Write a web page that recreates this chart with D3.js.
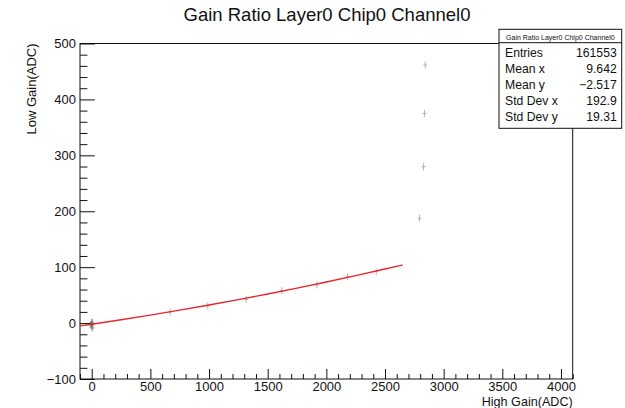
<!DOCTYPE html>
<html>
<head>
<meta charset="utf-8">
<script src="https://cdn.jsdelivr.net/npm/d3@7"></script>
<style>
  html, body { margin: 0; padding: 0; background: #fff; }
  svg { display: block; font-family: "Liberation Sans", Arial, Helvetica, sans-serif; }
</style>
</head>
<body>
<svg id="chart" width="625" height="408"></svg>
<script>
// Scatter of high-gain vs low-gain ADC readings
const highGain = [668, 989, 1316, 1620, 1919, 2180, 2425, 2794, 2828, 2837, 2843];
const lowGain  = [20.0, 30.5, 42.5, 57.9, 68.1, 82.9, 91.9, 187.4, 279.7, 375.0, 461.5];

// Dense pile of entries around the pedestal (0, 0)
const pedestalHG = [-8, -4, 0, 3, 6, -2, 8, 1];
const pedestalLG = [-3, -7, 0, -5, 2, 1, -9, -2];

// Second-order fit curve, sampled along its range
const fitHG = [-100, 0, 250, 500, 750, 1000, 1250, 1500, 1750, 2000, 2250, 2500, 2650];
const fitLG = [-5.0, -2.0, 5.9, 14.3, 23.1, 32.3, 41.9, 52.0, 62.5, 73.5, 84.9, 96.7, 104.0];

// Axis ticks
const xMajor = [0, 500, 1000, 1500, 2000, 2500, 3000, 3500, 4000];
const yMajor = [-100, 0, 100, 200, 300, 400, 500];

// Statistics box
const statLabels = ["Entries", "Mean x", "Mean y", "Std Dev x", "Std Dev y"];
const statValues = ["161553", "9.642", "\u22122.517", "192.9", "19.31"];

const title = "Gain Ratio Layer0 Chip0 Channel0";

const svg = d3.select("#chart");
const frame = { left: 80, right: 572.7, top: 43.5, bottom: 379 };

const x = d3.scaleLinear().domain([-100, 4100]).range([frame.left, frame.right]);
const y = d3.scaleLinear().domain([-100, 500]).range([frame.bottom, frame.top]);

const xMinor = d3.range(-100, 4101, 100).filter(v => !xMajor.includes(v));
const yMinor = d3.range(-100, 501, 20).filter(v => !yMajor.includes(v));

const fmt = d3.format("d");

// X axis: ticks point into the frame
const gx = svg.append("g").attr("transform", `translate(0,${frame.bottom})`);
gx.call(d3.axisBottom(x).tickValues(xMajor).tickSizeInner(-10).tickSizeOuter(0).tickPadding(3).tickFormat(fmt));
const gxm = svg.append("g").attr("transform", `translate(0,${frame.bottom})`);
gxm.call(d3.axisBottom(x).tickValues(xMinor).tickSizeInner(-5).tickSizeOuter(0).tickFormat(""));

// Y axis
const gy = svg.append("g").attr("transform", `translate(${frame.left},0)`);
gy.call(d3.axisLeft(y).tickValues(yMajor).tickSizeInner(-14.8).tickSizeOuter(0).tickPadding(4).tickFormat(fmt));
const gym = svg.append("g").attr("transform", `translate(${frame.left},0)`);
gym.call(d3.axisLeft(y).tickValues(yMinor).tickSizeInner(-7.4).tickSizeOuter(0).tickFormat(""));

svg.selectAll(".domain").remove();
svg.selectAll(".tick line").attr("stroke", "#111").attr("stroke-width", 1);
svg.selectAll(".tick text").attr("font-size", 13).attr("fill", "#111")
  .attr("font-family", "'Liberation Sans', Arial, Helvetica, sans-serif");

// Frame
svg.append("rect")
  .attr("x", frame.left).attr("y", frame.top)
  .attr("width", frame.right - frame.left).attr("height", frame.bottom - frame.top)
  .attr("fill", "none").attr("stroke", "#111").attr("stroke-width", 1);

// Markers drawn as small crosses
function cross(g, px, py, color) {
  g.append("line").attr("x1", px).attr("x2", px).attr("y1", py - 3.5).attr("y2", py + 3.5)
    .attr("stroke", color).attr("stroke-width", 1);
  g.append("line").attr("x1", px - 2).attr("x2", px + 2).attr("y1", py).attr("y2", py)
    .attr("stroke", color).attr("stroke-width", 1);
}
const gm = svg.append("g");
pedestalHG.forEach((h, i) => cross(gm, x(h), y(pedestalLG[i]), "rgba(110,110,110,0.55)"));
highGain.forEach((h, i) => cross(gm, x(h), y(lowGain[i]), "#b4b4b4"));

// Fit curve
const fitLine = d3.line().x(d => x(d[0])).y(d => y(d[1])).curve(d3.curveMonotoneX);
svg.append("path")
  .datum(fitHG.map((h, i) => [h, fitLG[i]]))
  .attr("d", fitLine)
  .attr("fill", "none").attr("stroke", "#e8262a").attr("stroke-width", 1.4);

// Title
svg.append("text").attr("x", 327).attr("y", 20.7).attr("text-anchor", "middle")
  .attr("font-size", 18.5).attr("fill", "#111").text(title);

// Axis titles
svg.append("text").attr("x", frame.right).attr("y", 405.5).attr("text-anchor", "end")
  .attr("font-size", 12.6).attr("fill", "#111").text("High Gain(ADC)");
svg.append("text").attr("transform", `translate(35.5,${frame.top}) rotate(-90)`)
  .attr("text-anchor", "end").attr("font-size", 13).attr("fill", "#111").text("Low Gain(ADC)");

// Statistics box
const box = { left: 499, right: 621.7, top: 29.3, bottom: 128.3, sep: 42.7 };
const gs = svg.append("g");
gs.append("rect").attr("x", box.left).attr("y", box.top)
  .attr("width", box.right - box.left).attr("height", box.bottom - box.top)
  .attr("fill", "#fff").attr("stroke", "#111").attr("stroke-width", 1);
gs.append("line").attr("x1", box.left).attr("x2", box.right).attr("y1", box.sep).attr("y2", box.sep)
  .attr("stroke", "#111").attr("stroke-width", 1);
gs.append("text").attr("x", (box.left + box.right) / 2).attr("y", 39.5).attr("text-anchor", "middle")
  .attr("font-size", 7).attr("fill", "#111").text(title);
const rowY = d3.scaleLinear().domain([0, statLabels.length - 1]).range([57.3, 120.7]);
statLabels.forEach((lab, i) => {
  gs.append("text").attr("x", 505).attr("y", rowY(i)).attr("font-size", 12.2).attr("fill", "#111").text(lab);
  gs.append("text").attr("x", 616.7).attr("y", rowY(i)).attr("text-anchor", "end")
    .attr("font-size", 12.2).attr("fill", "#111").text(statValues[i]);
});
</script>
</body>
</html>
